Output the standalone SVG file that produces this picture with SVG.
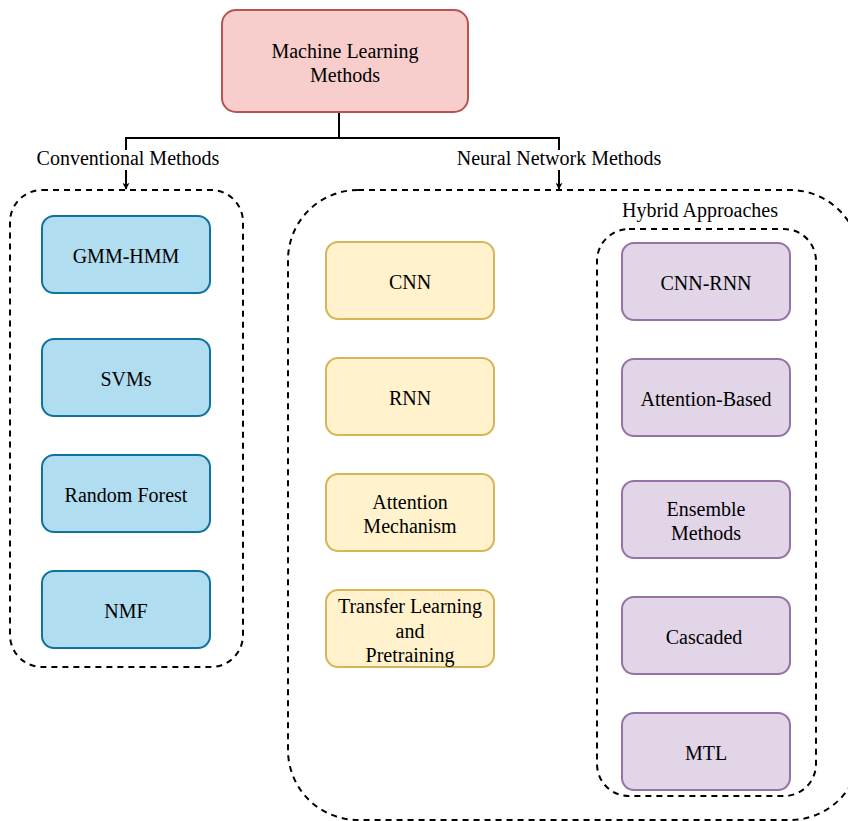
<svg xmlns="http://www.w3.org/2000/svg" width="848" height="821" viewBox="0 0 848 821">
<defs>
<style>
text{font-family:'Liberation Serif','Times New Roman',Times,serif;font-size:20px;fill:#000;text-anchor:middle}
.grp{fill:none;stroke:#000;stroke-width:2;stroke-dasharray:6 5}
.root{fill:#f8cecc;stroke:#b85450;stroke-width:2}
.blue{fill:#b1ddf0;stroke:#10739e;stroke-width:2}
.yel{fill:#fff2cc;stroke:#d6b656;stroke-width:2}
.pur{fill:#e1d5e7;stroke:#9673a6;stroke-width:2}
.edge{fill:none;stroke:#000;stroke-width:2}
</style>
<marker id="arr" viewBox="0 0 10 10" refX="9" refY="5" markerWidth="7" markerHeight="7" orient="auto" markerUnits="userSpaceOnUse">
<path d="M0,0 L10,5 L0,10 L3,5 Z" fill="#000"/>
</marker>
</defs>
<rect width="848" height="821" fill="#fff"/>

<g id="connectors">
<path class="edge" d="M339,112 V138 M126,138 H559 M126,137 V150 M559,137 V150"/>
<path class="edge" d="M126,170 V189" marker-end="url(#arr)"/>
<path class="edge" d="M559,170 V189" marker-end="url(#arr)"/>
<text x="128" y="165">Conventional Methods</text>
<text x="559" y="165">Neural Network Methods</text>
</g>

<g id="root">
<rect class="root" x="222" y="10" width="246" height="102" rx="14"/>
<text x="345" y="58">Machine Learning</text>
<text x="345" y="82">Methods</text>
</g>

<g id="conventional">
<rect class="grp" x="10" y="190" width="233" height="477" rx="32"/>
</g>
<g id="gmm"><rect class="blue" x="42" y="216" width="168" height="77" rx="12"/><text x="126" y="263">GMM-HMM</text></g>
<g id="svm"><rect class="blue" x="42" y="339" width="168" height="77" rx="12"/><text x="126" y="386">SVMs</text></g>
<g id="rf"><rect class="blue" x="42" y="455" width="168" height="77" rx="12"/><text x="126" y="502">Random Forest</text></g>
<g id="nmf"><rect class="blue" x="42" y="571" width="168" height="77" rx="12"/><text x="126" y="618">NMF</text></g>

<g id="neural">
<rect class="grp" x="288" y="190" width="572" height="630" rx="70"/>
</g>
<g id="cnn"><rect class="yel" x="326" y="242" width="168" height="77" rx="12"/><text x="410" y="289">CNN</text></g>
<g id="rnn"><rect class="yel" x="326" y="358" width="168" height="77" rx="12"/><text x="410" y="405">RNN</text></g>
<g id="attn"><rect class="yel" x="326" y="474" width="168" height="77" rx="12"/><text x="410" y="509">Attention</text><text x="410" y="533">Mechanism</text></g>
<g id="transfer"><rect class="yel" x="326" y="590" width="168" height="77" rx="12"/><text x="410" y="613">Transfer Learning</text><text x="410" y="638">and</text><text x="410" y="662">Pretraining</text></g>

<g id="hybrid">
<rect class="grp" x="597" y="229" width="219" height="567" rx="32"/>
<text x="700" y="217">Hybrid Approaches</text>
</g>
<g id="cnnrnn"><rect class="pur" x="622" y="243" width="168" height="77" rx="12"/><text x="706" y="290">CNN-RNN</text></g>
<g id="attbased"><rect class="pur" x="622" y="359" width="168" height="77" rx="12"/><text x="706" y="406">Attention-Based</text></g>
<g id="ensemble"><rect class="pur" x="622" y="481" width="168" height="77" rx="12"/><text x="706" y="516">Ensemble</text><text x="706" y="540">Methods</text></g>
<g id="cascaded"><rect class="pur" x="622" y="597" width="168" height="77" rx="12"/><text x="704" y="644">Cascaded</text></g>
<g id="mtl"><rect class="pur" x="622" y="713" width="168" height="77" rx="12"/><text x="706" y="760">MTL</text></g>
</svg>
